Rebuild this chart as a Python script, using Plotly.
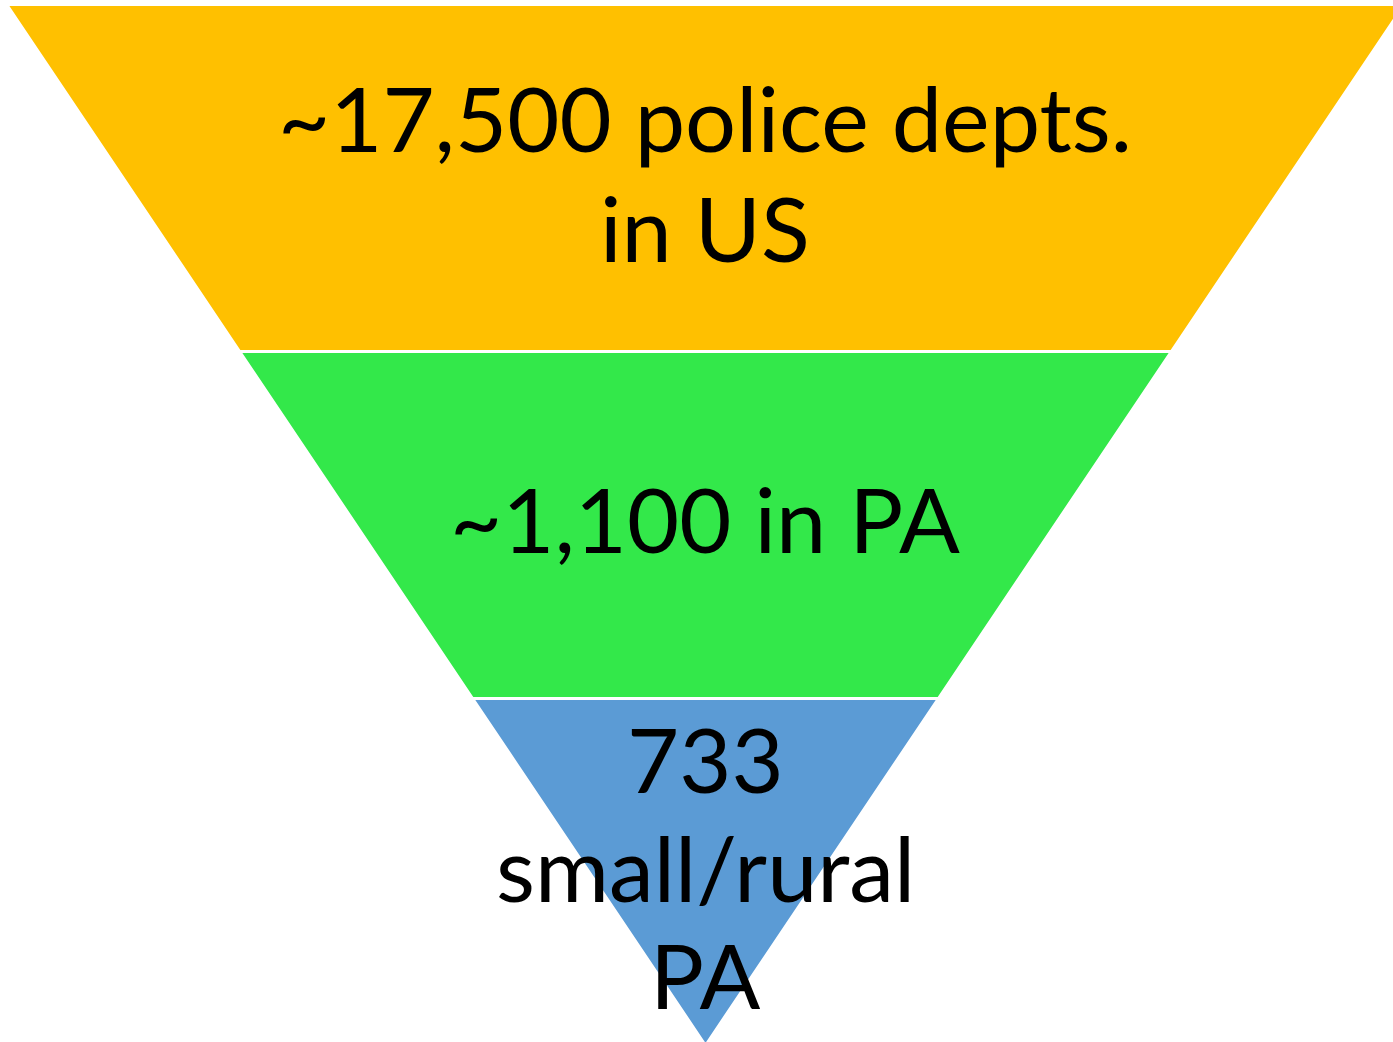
import plotly.graph_objects as go

# ---- data ----
stages = ["US", "PA", "small/rural PA"]
dept_counts = [17500, 1100, 733]
# area weights of the three stacked bands (equal-height bands of a triangle)
band_weights = [5, 3, 1]
label_lines = [
    ["~17,500 police depts.", "in US"],
    ["~1,100 in PA"],
    ["733", "small/rural", "PA"],
]

# ---- style / layout ----
band_colors = ["#FFC000", "#33E84A", "#5B9BD5"]
# figure slightly larger than the 1393x1042 window; the overflow is hidden,
# so the funnel's top-right corner runs off the edge as in the reference
W, H = 1420, 1050
line_centers_px = [[117, 227], [518], [758, 867, 974]]
text_center_x_px = 705
font_family = "Lato, 'Open Sans', sans-serif"
font_size = 90

fig = go.Figure(
    go.Funnelarea(
        values=band_weights,
        labels=stages,
        marker=dict(colors=band_colors, line=dict(color="white", width=3)),
        textinfo="none",
        baseratio=0,
        aspectratio=0.7448,
        domain=dict(x=[6.5 / W, 1404.5 / W], y=[(H - 1045.5) / H, (H - 4.5) / H]),
        showlegend=False,
        hoverinfo="label",
    )
)

annotations = []
for lines, centers in zip(label_lines, line_centers_px):
    for txt, cy in zip(lines, centers):
        annotations.append(
            dict(
                text=txt,
                x=text_center_x_px / W,
                y=1 - cy / H,
                xref="paper",
                yref="paper",
                xanchor="center",
                yanchor="middle",
                showarrow=False,
                font=dict(family=font_family, size=font_size, color="black"),
            )
        )

fig.update_layout(
    width=W,
    height=H,
    margin=dict(l=0, r=0, t=0, b=0),
    paper_bgcolor="white",
    plot_bgcolor="white",
    annotations=annotations,
)

fig.write_html(
    "out.html",
    config={"displayModeBar": False},
    post_script="document.body.style.margin='0';document.body.style.overflow='hidden';",
)
